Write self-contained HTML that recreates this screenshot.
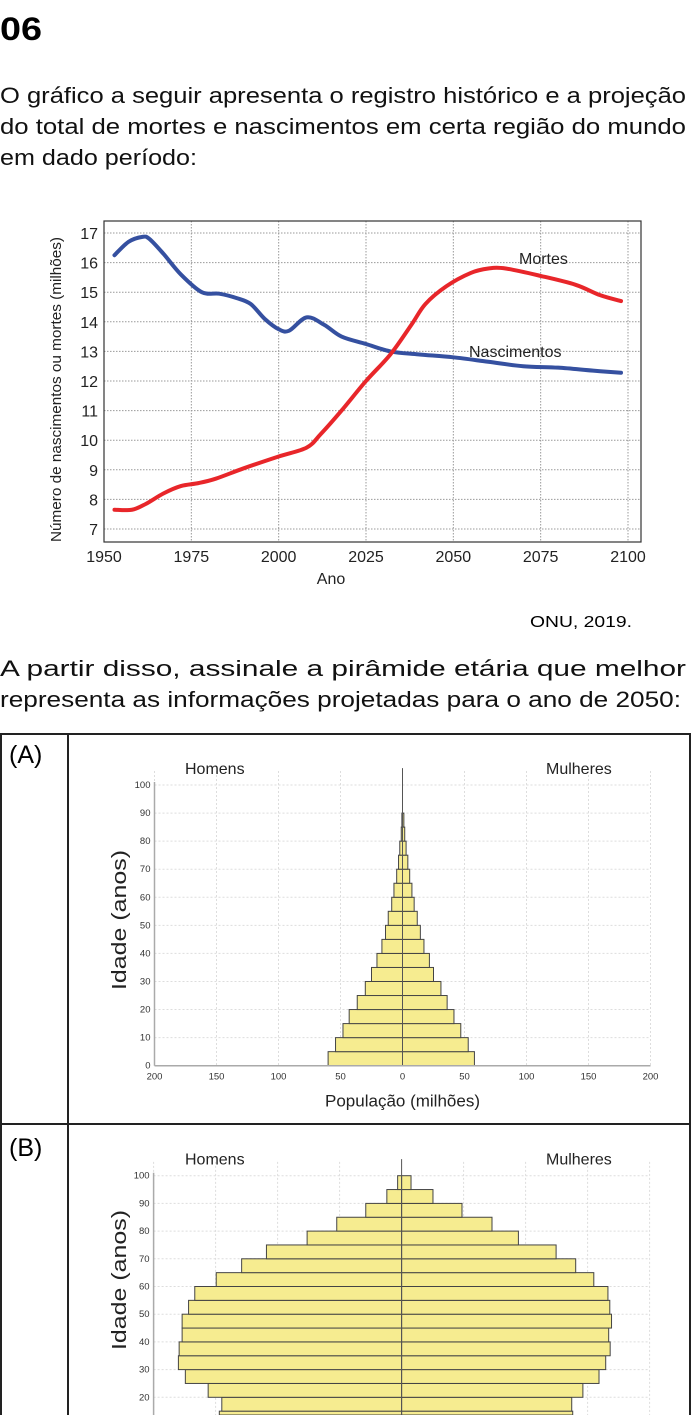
<!DOCTYPE html>
<html><head><meta charset="utf-8"><style>
html,body{margin:0;padding:0;background:#fff;}
svg{display:block;font-family:"Liberation Sans",sans-serif;}
</style></head><body>
<svg id="page" width="694" height="1415" viewBox="0 0 694 1415" xmlns="http://www.w3.org/2000/svg">
<text x="0" y="40" font-size="32" font-weight="bold" textLength="42" lengthAdjust="spacingAndGlyphs">06</text>
<g font-size="22" fill="#111">
<text x="0" y="103" textLength="686" lengthAdjust="spacingAndGlyphs">O gráfico a seguir apresenta o registro histórico e a projeção</text>
<text x="0" y="134" textLength="686" lengthAdjust="spacingAndGlyphs">do total de mortes e nascimentos em certa região do mundo</text>
<text x="0" y="165" textLength="197" lengthAdjust="spacingAndGlyphs">em dado período:</text>
</g>
<g id="line-chart"></g>
<text x="530" y="627" font-size="16" textLength="102" lengthAdjust="spacingAndGlyphs">ONU, 2019.</text>
<g font-size="22" fill="#111">
<text x="0" y="676" textLength="686" lengthAdjust="spacingAndGlyphs">A partir disso, assinale a pirâmide etária que melhor</text>
<text x="0" y="707" textLength="681" lengthAdjust="spacingAndGlyphs">representa as informações projetadas para o ano de 2050:</text>
</g>
<g stroke="#222" stroke-width="2" fill="none">
<line x1="1" y1="733" x2="1" y2="1415"/><line x1="690" y1="733" x2="690" y2="1415"/>
<line x1="0" y1="734" x2="691" y2="734"/><line x1="0" y1="1124" x2="691" y2="1124"/>
<line x1="68" y1="733" x2="68" y2="1415"/>
</g>
<text x="9" y="763" font-size="25">(A)</text>
<text x="9" y="1156" font-size="25">(B)</text>
<g id="pyrA"></g>
<g id="pyrB"></g>
</svg>
<script>
// ---- line chart data ----
const birthYears=[1953,1957,1961,1963,1967,1972,1978,1983,1988,1992,1996,2000,2003,2008,2013,2018,2025,2032,2040,2050,2060,2070,2080,2090,2098];
const birthVals=[16.25,16.7,16.87,16.8,16.3,15.6,15.0,14.95,14.8,14.6,14.1,13.75,13.7,14.15,13.9,13.5,13.25,13.0,12.9,12.8,12.65,12.5,12.45,12.35,12.28];
const deathYears=[1953,1958,1962,1967,1972,1977,1982,1990,2000,2008,2012,2018,2025,2032,2038,2042,2048,2055,2060,2065,2075,2085,2092,2098];
const deathVals=[7.65,7.65,7.85,8.2,8.45,8.55,8.7,9.05,9.45,9.75,10.2,11.0,12.0,12.9,13.9,14.6,15.2,15.65,15.8,15.8,15.55,15.25,14.9,14.7];
const xTicks=[1950,1975,2000,2025,2050,2075,2100];
const yTicks=[7,8,9,10,11,12,13,14,15,16,17];
// ---- pyramid data (5-year groups from age 0) ----
const ageGroupsA=[0,5,10,15,20,25,30,35,40,45,50,55,60,65,70,75,80,85];
const menA=[60,54,48,43,36.5,30,25,20.6,16.6,13.7,11.5,8.7,6.9,4.7,3.2,2.2,1,0.5];
const womenA=[58,53,47,41.5,36,31,25,21.7,17.3,14.4,11.9,9.4,7.6,5.8,4.3,2.9,1.8,1.1];
const ageGroupsB=[10,15,20,25,30,35,40,45,50,55,60,65,70,75,80,85,90,95];
const menB=[147,145,156,174.4,180,179.4,177,177,171.8,166.8,149.5,129,109,76.2,52.3,28.9,11.9,3.2];
const womenB=[138,137.2,146.2,159.2,164.6,168.2,167,169.3,167.9,166.4,155,140.4,124.6,94.2,72.9,48.7,25.3,7.6];
const popTicks=[200,150,100,50,0,50,100,150,200];
const ageTicks=[0,10,20,30,40,50,60,70,80,90,100];

const NS='http://www.w3.org/2000/svg';
function mk(tag,attrs,parent,txt){const e=document.createElementNS(NS,tag);for(const k in attrs)e.setAttribute(k,attrs[k]);if(txt!==undefined)e.textContent=txt;parent.appendChild(e);return e;}
function smooth(pts){let d='M'+pts[0][0]+','+pts[0][1];for(let i=0;i<pts.length-1;i++){const p0=pts[i-1]||pts[i],p1=pts[i],p2=pts[i+1],p3=pts[i+2]||p2;const c1=[p1[0]+(p2[0]-p0[0])/6,p1[1]+(p2[1]-p0[1])/6],c2=[p2[0]-(p3[0]-p1[0])/6,p2[1]-(p3[1]-p1[1])/6];d+=' C'+c1+' '+c2+' '+p2;}return d;}

// line chart
(function(){
 const g=document.getElementById('line-chart');
 const L=104,R=641,T=221,B=542;
 const x=y=>104+(y-1950)*(628-104)/150;
 const y=v=>529-(v-7)*29.6;
 for(const t of xTicks){const l=mk('line',{x1:x(t),x2:x(t),y1:T,y2:B,stroke:'#999','stroke-dasharray':'1.5,1.5','stroke-width':1},g);
  const tx=mk('text',{x:x(t),y:562,'font-size':16,'text-anchor':'middle',fill:'#222'},g,t);}
 for(const t of yTicks){const l=mk('line',{x1:L,x2:R,y1:y(t),y2:y(t),stroke:'#999','stroke-dasharray':'1.5,1.5','stroke-width':1},g);
  const tx=mk('text',{x:98,y:y(t)+6,'font-size':16,'text-anchor':'end',fill:'#222'},g,t);}
 const fr=mk('rect',{x:L,y:T,width:R-L,height:B-T,fill:'none',stroke:'#333','stroke-width':1.2},g);
 const pb=mk('path',{d:smooth(birthYears.map((yr,i)=>[x(yr),y(birthVals[i])])),fill:'none',stroke:'#3550a0','stroke-width':4,'stroke-linecap':'round'},g);
 const pd=mk('path',{d:smooth(deathYears.map((yr,i)=>[x(yr),y(deathVals[i])])),fill:'none',stroke:'#e8262a','stroke-width':4,'stroke-linecap':'round'},g);
 const a=mk('text',{x:519,y:264,'font-size':16,fill:'#222'},g,'Mortes');
 const b=mk('text',{x:469,y:357,'font-size':16,fill:'#222'},g,'Nascimentos');
 const xt=mk('text',{x:331,y:584,'font-size':16,'text-anchor':'middle',fill:'#222'},g,'Ano');
 const yt=mk('text',{x:-152,y:0,'font-size':15,textLength:305,lengthAdjust:'spacingAndGlyphs',fill:'#222',transform:'translate(61,390) rotate(-90)'},g,'Número de nascimentos ou mortes (milhões)');
})();

function pyramid(id,cx,y0,ppy,groups,men,women,clipTop,clipBot,showX){
 const g=document.getElementById(id);
 const k=1.24;const xs=(v,side)=>cx+side*v*k;const ys=a=>y0-a*ppy;
 const left=cx-200*k,right=cx+200*k;
 [-200,-150,-100,-50,50,100,150,200].forEach(v=>{const l=mk('line',{x1:cx+v*k,x2:cx+v*k,y1:Math.max(ys(105),clipTop),y2:Math.min(y0,clipBot),stroke:'#ddd','stroke-dasharray':'2,2'},g);});
 ageTicks.forEach(t=>{const yy=ys(t);if(yy<clipTop||yy>clipBot)return;const l=mk('line',{x1:left,x2:right,y1:yy,y2:yy,stroke:'#ddd','stroke-dasharray':'2,2'},g);
  const tx=mk('text',{x:left-4,y:yy+3,'font-size':9.5,'text-anchor':'end',fill:'#333'},g,t);});
 const ax=mk('line',{x1:left,x2:left,y1:ys(100)-3,y2:Math.min(y0,clipBot),stroke:'#aaa','stroke-width':1.5},g);
 groups.forEach((a,i)=>{const yt=ys(a+5),yb=ys(a);if(yt>clipBot)return;const h=Math.min(yb,clipBot)-yt;
  const m=mk('rect',{x:xs(men[i],-1),y:yt,width:men[i]*k,height:h,fill:'#f6ec90',stroke:'#444','stroke-width':1},g);
  const w=mk('rect',{x:cx,y:yt,width:women[i]*k,height:h,fill:'#f6ec90',stroke:'#444','stroke-width':1},g);});
 const c=mk('line',{x1:cx,x2:cx,y1:ys(106),y2:Math.min(y0,clipBot),stroke:'#555','stroke-width':1},g);
 const h1=mk('text',{x:185,y:ys(100)-11,'font-size':16,fill:'#222'},g,'Homens');
 const h2=mk('text',{x:546,y:ys(100)-11,'font-size':16,fill:'#222'},g,'Mulheres');
 const yt=mk('text',{x:-70,y:0,'font-size':20,textLength:140,lengthAdjust:'spacingAndGlyphs',fill:'#222',transform:'translate(126,'+(id==='pyrA'?920:1280)+') rotate(-90)'},g,'Idade (anos)');
 if(showX){const xa=mk('line',{x1:left,x2:right,y1:y0,y2:y0,stroke:'#aaa','stroke-width':1.5},g);
  popTicks.forEach((t,i)=>{const tx=mk('text',{x:left+i*50*k,y:y0+14,'font-size':9.5,'text-anchor':'middle',fill:'#333'},g,t);});
  const xt=mk('text',{x:cx,y:y0+41,'font-size':17,'text-anchor':'middle',fill:'#222'},g,'População (milhões)');}
}
pyramid('pyrA',402.5,1065.7,2.807,ageGroupsA,menA,womenA,700,1100,true);
pyramid('pyrB',401.6,1452.7,2.77,ageGroupsB,menB,womenB,1130,1415,false);
</script>
</body></html>
